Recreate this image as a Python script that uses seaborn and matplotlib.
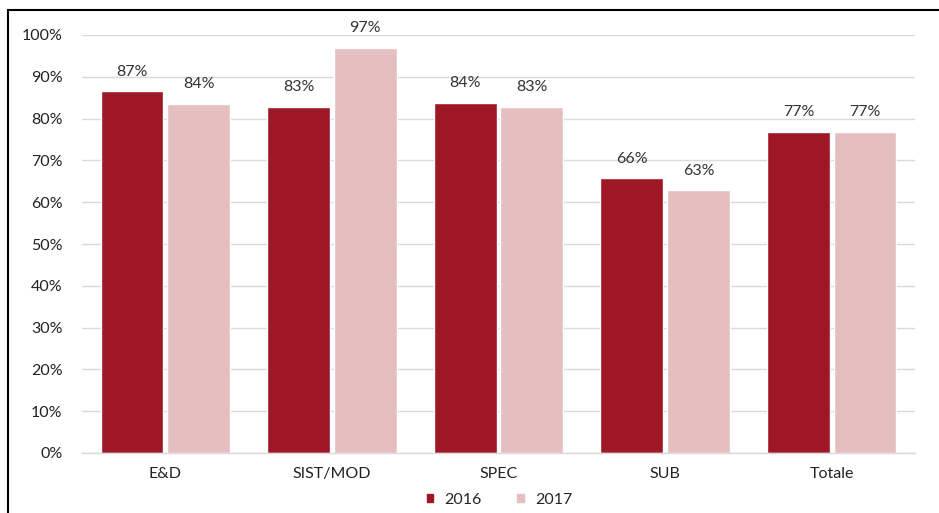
import numpy as np
import pandas as pd
import seaborn as sns
import matplotlib.pyplot as plt
from matplotlib.patches import Rectangle
from matplotlib.ticker import MultipleLocator, FuncFormatter

categories = ['E&D', 'SIST/MOD', 'SPEC', 'SUB', 'Totale']
years = ['2016', '2017']
values_2016 = [86.6, 82.8, 83.8, 65.7, 76.8]
values_2017 = [83.5, 97.0, 82.8, 62.8, 76.8]
colors = ['#9E1726', '#E5BEC0']

df = pd.DataFrame({
    'cat': categories * 2,
    'year': [years[0]] * 5 + [years[1]] * 5,
    'val': values_2016 + values_2017,
})

sns.set_theme(style='white')
plt.rcParams['font.family'] = ['Lato', 'DejaVu Sans']

fig = plt.figure(figsize=(9.39, 5.13), dpi=100)
ax = fig.add_axes([82 / 939, 60 / 513, 833 / 939, 418 / 513])

sns.barplot(data=df, x='cat', y='val', hue='year', palette=colors,
            width=0.8, gap=0.06, saturation=1, ax=ax, zorder=2, legend=False)

for cont in ax.containers:
    ax.bar_label(cont, labels=[f'{v:.0f}%' for v in cont.datavalues],
                 padding=9, fontsize=11.5, color='#333333')

ax.set_ylim(0, 100)
ax.set_xlim(-0.5, 4.5)
ax.yaxis.set_major_locator(MultipleLocator(10))
ax.yaxis.set_major_formatter(FuncFormatter(lambda v, p: f'{v:.0f}%'))
ax.grid(axis='y', color='#D9D9D9', linewidth=1, zorder=0)
ax.set_axisbelow(True)
for s in ['top', 'right', 'left']:
    ax.spines[s].set_visible(False)
ax.spines['bottom'].set_color('#D9D9D9')
ax.spines['bottom'].set_linewidth(1)
ax.set_xticks(np.arange(-0.5, 5, 1), minor=True)
ax.tick_params(axis='x', which='minor', length=5, color='#D9D9D9', width=1)
ax.tick_params(axis='x', which='major', length=0, pad=10, labelsize=11.5, labelcolor='#222222')
ax.tick_params(axis='y', length=0, pad=14, labelsize=11.5, labelcolor='#222222')
ax.set_xlabel('')
ax.set_ylabel('')

handles = [Rectangle((0, 0), 1, 1, color=c) for c in colors]
fig.legend(handles, years, loc='center', bbox_to_anchor=(0.532, 0.025), ncol=2,
           frameon=False, handlelength=0.4, handleheight=0.4, handletextpad=0.7,
           columnspacing=2.2, fontsize=11.5)

fig.patches.append(Rectangle((8 / 939, -0.1), 1.5, (503 / 513) + 0.1,
                             transform=fig.transFigure, fill=False,
                             edgecolor='black', linewidth=1.5))

fig.savefig('out.png', dpi=100)
